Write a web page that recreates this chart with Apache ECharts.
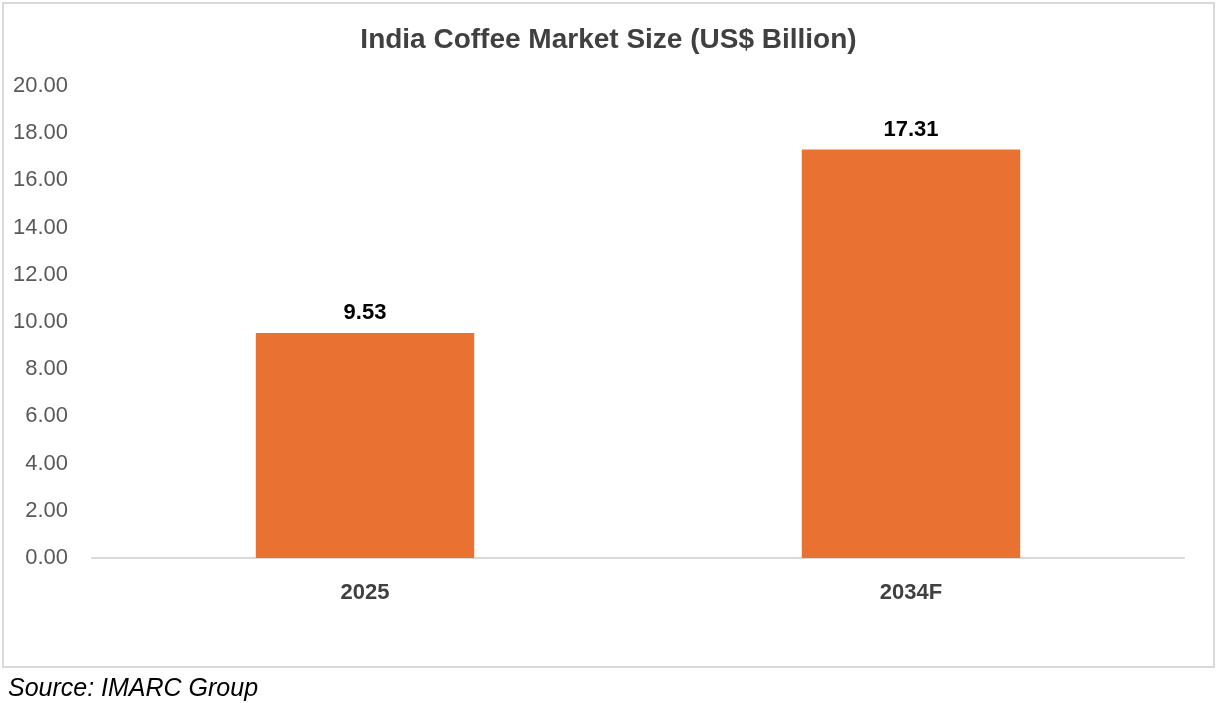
<!DOCTYPE html>
<html>
<head>
<meta charset="utf-8">
<script src="https://cdn.jsdelivr.net/npm/echarts@6/dist/echarts.min.js"></script>
<style>
  html, body { margin: 0; padding: 0; background: #fff; }
  #main { width: 1217px; height: 703px; }
</style>
</head>
<body>
<div id="main"></div>
<script>
let categories = ['2025', '2034F'];
let marketSize = [9.53, 17.31];
let yTicks = { min: 0, max: 20, interval: 2 };

let dom = document.getElementById('main');
let myChart = echarts.init(dom);
let font = 'Liberation Sans, Arial, sans-serif';

let option = {
  animation: false,
  backgroundColor: '#fff',
  title: [{
    text: 'India Coffee Market Size (US$ Billion)',
    left: 'center',
    top: 21,
    textStyle: { fontFamily: font, fontSize: 28, fontWeight: 'bold', color: '#404040' }
  }, {
    text: 'Source: IMARC Group',
    left: 3,
    top: 672,
    textStyle: { fontFamily: font, fontSize: 25, fontWeight: 'normal', fontStyle: 'italic', color: '#000' }
  }],
  graphic: [{
    type: 'rect',
    shape: { x: 3, y: 3, width: 1211, height: 664 },
    style: { fill: 'none', stroke: '#d9d9d9', lineWidth: 2 },
    silent: true
  }],
  grid: { left: 92, right: 33, top: 86, bottom: 145, containLabel: false },
  xAxis: {
    type: 'category',
    data: categories,
    axisLine: { lineStyle: { color: '#d9d9d9', width: 2 } },
    axisTick: { show: false },
    axisLabel: { fontFamily: font, fontSize: 22, fontWeight: 'bold', color: '#404040', margin: 24 }
  },
  yAxis: {
    type: 'value',
    min: yTicks.min,
    max: yTicks.max,
    interval: yTicks.interval,
    splitLine: { show: false },
    axisLine: { show: false },
    axisTick: { show: false },
    axisLabel: {
      fontFamily: font, fontSize: 22, color: '#595959', margin: 24,
      padding: [3, 0, 0, 0],
      formatter: function (v) { return v.toFixed(2); }
    }
  },
  series: [{
    type: 'bar',
    data: marketSize,
    barWidth: '40%',
    itemStyle: { color: '#E97132' },
    label: {
      show: true,
      position: 'top',
      distance: 9,
      fontFamily: font, fontSize: 22, fontWeight: 'bold', color: '#000',
      formatter: function (p) { return p.value.toFixed(2); }
    }
  }]
};

myChart.setOption(option);
</script>
</body>
</html>
